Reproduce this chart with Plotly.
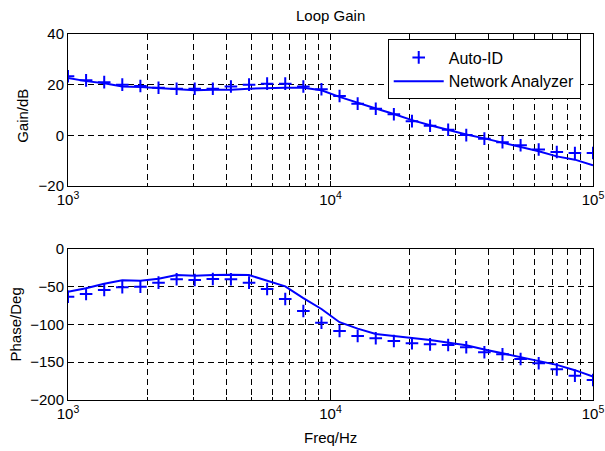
import plotly.graph_objects as go

freq = [1000, 1172, 1374, 1610, 1887, 2212, 2593, 3039, 3562, 4175,
        4894, 5736, 6723, 7880, 9237, 10826, 12690, 14874, 17433, 20434,
        23950, 28072, 32903, 38566, 45204, 52983, 62102, 72790, 85317, 100000]

gain_autoid = [23.3, 21.7, 21.0, 20.0, 19.5, 18.8, 18.4, 18.4, 18.4, 19.3,
               20.0, 20.4, 20.4, 19.3, 18.2, 15.5, 12.5, 10.5, 8.3, 5.6,
               3.8, 2.2, 0.1, -1.3, -2.7, -3.9, -5.6, -6.6, -7.0, -7.0]
gain_na = [22.6, 21.4, 20.6, 19.3, 19.1, 18.7, 18.4, 17.8, 18.0, 18.0,
           18.4, 18.7, 18.8, 18.8, 17.8, 15.2, 12.8, 10.6, 8.4, 6.0,
           4.0, 2.1, 0.3, -1.2, -2.8, -4.5, -6.3, -8.3, -9.6, -11.8]

phase_autoid = [-63.2, -59.6, -54.3, -50.7, -49.9, -44.6, -40.1, -41.1, -39.7, -40.1,
                -44.6, -53.0, -66.2, -82.1, -97.6, -108.6, -115.2, -118.3, -121.9, -124.9,
                -126.3, -127.2, -130.2, -136.8, -139.5, -145.7, -151.4, -159.4, -167.8, -173.5]
phase_na = [-56.5, -52.0, -46.0, -41.5, -42.0, -39.5, -34.5, -35.3, -34.5, -34.0,
            -34.5, -41.5, -49.5, -65.0, -79.5, -97.0, -105.5, -112.5, -115.5, -118.0,
            -120.5, -124.0, -127.5, -133.0, -138.0, -143.5, -148.5, -153.5, -160.5, -169.0]

x_major = [1000, 10000, 100000]
x_major_text = ["10<sup>3</sup>", "10<sup>4</sup>", "10<sup>5</sup>"]
x_minor = [m * d for d in (1000, 10000) for m in range(2, 10)]

BLUE = "rgb(0,0,255)"
FONT = "Liberation Sans, Arial, sans-serif"

fig = go.Figure()

fig.add_trace(go.Scatter(x=freq, y=gain_na, mode="lines", name="Network Analyzer",
                         line=dict(color=BLUE, width=2), xaxis="x", yaxis="y",
                         legendrank=2))
fig.add_trace(go.Scatter(x=freq, y=gain_autoid, mode="markers", name="Auto-ID",
                         marker=dict(symbol="cross-thin", size=9,
                                     line=dict(color=BLUE, width=2)),
                         xaxis="x", yaxis="y", legendrank=1))
fig.add_trace(go.Scatter(x=freq, y=phase_na, mode="lines", showlegend=False,
                         line=dict(color=BLUE, width=2), xaxis="x2", yaxis="y2"))
fig.add_trace(go.Scatter(x=freq, y=phase_autoid, mode="markers", showlegend=False,
                         marker=dict(symbol="cross-thin", size=9,
                                     line=dict(color=BLUE, width=2)),
                         xaxis="x2", yaxis="y2"))

grid = dict(showgrid=True, gridcolor="black", gridwidth=1, griddash="6px,4px")
common = dict(showline=True, linecolor="black", linewidth=1, mirror="ticks",
              ticks="inside", ticklen=5, tickcolor="black", tickwidth=1,
              zeroline=False, tickfont=dict(family=FONT, size=15, color="black"),
              ticklabeloverflow="allow", automargin=False, **grid)
xcommon = dict(common, type="log", range=[3, 5], tickmode="array",
               tickvals=x_major, ticktext=x_major_text,
               minor=dict(tickmode="array", tickvals=x_minor, ticks="inside",
                          ticklen=3, tickcolor="black", showgrid=True,
                          gridcolor="black", gridwidth=1, griddash="6px,4px"))

top_dom = [0.5847, 1.0]
bot_dom = [0.0, 0.4126]

ann_font = dict(family=FONT, size=15, color="black")

fig.update_layout(
    width=605, height=451,
    margin=dict(l=68, r=12, t=34, b=51, autoexpand=False),
    paper_bgcolor="white", plot_bgcolor="white",
    font=dict(family=FONT, size=15, color="black"),
    xaxis=dict(xcommon, anchor="y"),
    yaxis=dict(common, domain=top_dom, range=[-20, 40], dtick=20, anchor="x"),
    xaxis2=dict(xcommon, anchor="y2"),
    yaxis2=dict(common, domain=bot_dom, range=[-200, 0], dtick=50, anchor="x2"),
    legend=dict(x=0.609, y=0.985, xanchor="left", yanchor="top",
                bgcolor="white", bordercolor="black", borderwidth=1,
                font=dict(family=FONT, size=16, color="black"),
                itemwidth=50, traceorder="normal"),
    showlegend=True,
    annotations=[
        dict(text="Loop Gain", xref="paper", yref="paper", x=0.5, y=1,
             xanchor="center", yanchor="bottom", yshift=8, showarrow=False,
             font=dict(family=FONT, size=15, color="black")),
        dict(text="Freq/Hz", xref="paper", yref="paper", x=0.5, y=0,
             xanchor="center", yanchor="middle", yshift=-37, showarrow=False,
             font=ann_font),
        dict(text="Gain/dB", xref="paper", yref="paper", x=0, y=0.79,
             xanchor="center", yanchor="middle", xshift=-45, yshift=-5,
             textangle=-90, showarrow=False, font=ann_font),
        dict(text="Phase/Deg", xref="paper", yref="paper", x=0, y=0.2063,
             xanchor="center", yanchor="middle", xshift=-53,
             textangle=-90, showarrow=False, font=ann_font),
    ],
)

fig.write_html("out.html", config={"displayModeBar": False},
               post_script="document.body.style.margin='0';")
